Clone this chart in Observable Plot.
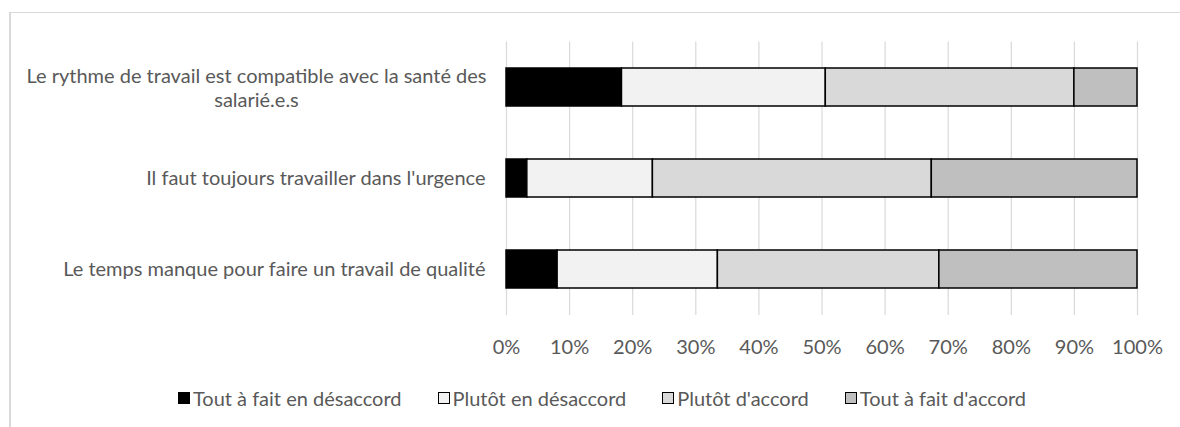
<!DOCTYPE html>
<html><head><meta charset="utf-8">
<script src="https://cdn.jsdelivr.net/npm/d3@7"></script>
<script src="https://cdn.jsdelivr.net/npm/@observablehq/plot@0.6"></script>
<style>
body{margin:0;background:#fff;font-family:Lato,sans-serif;}
#wrap{position:relative;width:1180px;height:427px;overflow:hidden;}
#frame{position:absolute;left:9px;top:12px;right:-5px;bottom:-5px;border-top:1px solid #d9d9d9;border-left:2px solid #d9d9d9;}
#chart{position:absolute;left:0;top:0;}
#legend{position:absolute;left:0;top:365px;width:1180px;height:66px;display:flex;align-items:center;justify-content:center;gap:36px;padding-left:24px;box-sizing:border-box;color:#595959;font-size:20px;}
.item{display:flex;align-items:center;gap:3px;white-space:nowrap}
.sw{width:10px;height:10px;border:1.5px solid #000;}
</style></head><body>
<div id="wrap"><div id="frame"></div><div id="chart"></div><div id="legend"></div></div>
<script>
const categories = [
  "Le rythme de travail est compatible avec la santé des salarié.e.s",
  "Il faut toujours travailler dans l'urgence",
  "Le temps manque pour faire un travail de qualité"
];
const categoryLabels = [
  "Le rythme de travail est compatible avec la santé des\nsalarié.e.s",
  "Il faut toujours travailler dans l'urgence",
  "Le temps manque pour faire un travail de qualité"
];
const series = ["Tout à fait en désaccord", "Plutôt en désaccord", "Plutôt d'accord", "Tout à fait d'accord"];
const colors = ["#000000", "#f2f2f2", "#d9d9d9", "#bfbfbf"];
const toutDesaccord = [18.3, 3.3, 8.1];
const plutotDesaccord = [32.3, 19.9, 25.4];
const plutotAccord = [39.4, 44.2, 35.1];
const toutAccord = [10.0, 32.6, 31.4];
const xTicks = [0, 10, 20, 30, 40, 50, 60, 70, 80, 90, 100];

const values = [toutDesaccord, plutotDesaccord, plutotAccord, toutAccord];
const data = categories.flatMap((c, i) => series.map((s, j) => ({category: c, series: s, value: values[j][i]})));

const chart = Plot.plot({
  width: 1180, height: 365,
  marginLeft: 506, marginRight: 43, marginTop: 41.5, marginBottom: 50,
  style: {fontFamily: "Lato, sans-serif", color: "#595959", background: "transparent", overflow: "visible"},
  x: {domain: [0, 100], label: null},
  y: {domain: categories, paddingInner: 0.58, paddingOuter: 0.29, axis: null},
  color: {domain: series, range: colors},
  marks: [
    Plot.ruleX(xTicks, {stroke: "#d9d9d9", strokeWidth: 1.2}),
    Plot.barX(data, Plot.stackX({x: "value", y: "category", fill: "series", stroke: "#000", strokeWidth: 1.5, order: null})),
    Plot.axisX({ticks: xTicks, tickSize: 0, tickPadding: 24, fontSize: 20, tickFormat: d => d + "%", label: null, fill: "#595959"}),
    Plot.text(categories, {filter: (d, i) => !categoryLabels[i].includes("\n"), y: d => d, text: (d, i) => categoryLabels[i],
      frameAnchor: "left", textAnchor: "end", dx: -21, fontSize: 20, fill: "#595959"}),
    Plot.text(categories, {filter: (d, i) => categoryLabels[i].includes("\n"), y: d => d, text: (d, i) => categoryLabels[i],
      frameAnchor: "left", textAnchor: "middle", dx: -250, fontSize: 20, lineHeight: 1.215, fill: "#595959"})
  ]
});
document.getElementById("chart").appendChild(chart);

const legend = document.getElementById("legend");
series.forEach((s, i) => {
  const it = document.createElement("div"); it.className = "item";
  const sw = document.createElement("span"); sw.className = "sw"; sw.style.background = colors[i];
  const t = document.createElement("span"); t.textContent = s;
  it.appendChild(sw); it.appendChild(t); legend.appendChild(it);
});
</script></body></html>
